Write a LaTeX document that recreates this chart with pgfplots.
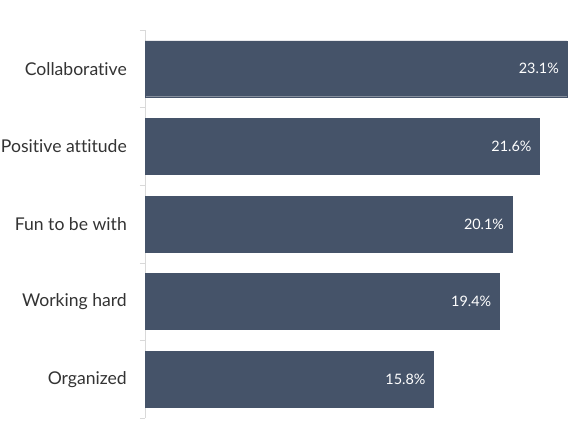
\documentclass[border=0pt]{standalone}
\usepackage{pgfplots}
\pgfplotsset{compat=1.18}
\usepackage{fontspec}
\setmainfont[Ligatures=NoCommon]{Lato}
\definecolor{barc}{HTML}{455369}
\definecolor{txt}{HTML}{333333}
\definecolor{axc}{HTML}{D9D9D9}
\begin{document}
\begin{tikzpicture}[x=1pt,y=1pt]
\path[use as bounding box] (0,0) rectangle (580,435);
\begin{axis}[
  at={(145pt,17pt)}, anchor=south west,
  scale only axis, width=435pt, height=388pt,
  xbar, bar width=0.72,
  xmin=0, xmax=23.81,
  ymin=-0.5, ymax=4.5,
  axis x line=none,
  axis y line*=left,
  axis line style={axc, -},
  ytick={0,1,2,3,4},
  yticklabels={Organized,Working hard,Fun to be with,Positive attitude,Collaborative},
  minor ytick={-0.5,0.5,1.5,2.5,3.5,4.5},
  major tick length=0pt,
  minor tick length=5pt,
  tick align=outside,
  minor tick style={axc},
  yticklabel style={font=\fontsize{17.6}{20}\selectfont, text=txt, anchor=east, inner sep=0pt, xshift=-18pt},
  point meta=explicit symbolic,
  nodes near coords,
  every node near coord/.append style={anchor=east, text=white, font=\fontsize{14.4}{17}\selectfont, xshift=-8pt, inner sep=0pt},
  clip=false,
]
\addplot[fill=barc, draw=barc] coordinates {
  (15.8,0) [15.8\%]
  (19.4,1) [19.4\%]
  (20.1,2) [20.1\%]
  (21.6,3) [21.6\%]
  (23.1,4) [23.1\%]
};
\end{axis}
\end{tikzpicture}
\end{document}
